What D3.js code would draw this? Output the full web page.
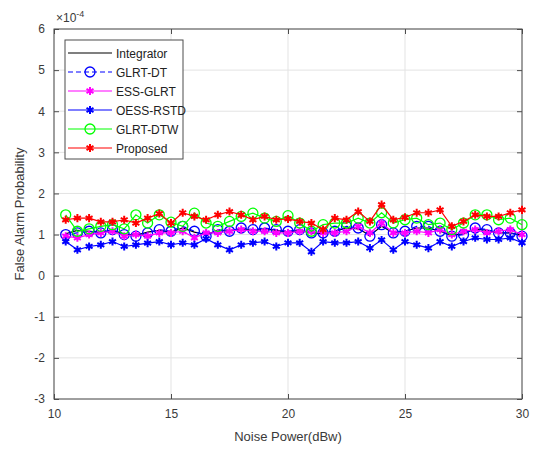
<!DOCTYPE html>
<html>
  <head>
    <meta charset="utf-8" />
    <script src="https://d3js.org/d3.v7.min.js"></script>
    <style>
      body { margin: 0; background: #fff; }
      svg { display: block; font-family: "Liberation Sans", Arial, sans-serif; }
    </style>
  </head>
  <body>
    <svg id="canvas" width="533" height="449"></svg>
    <script>
      // noise power (dBw), 10.5 .. 30 step 0.5
      const noisePower = [10.5, 11, 11.5, 12, 12.5, 13, 13.5, 14, 14.5, 15,
        15.5, 16, 16.5, 17, 17.5, 18, 18.5, 19, 19.5, 20,
        20.5, 21, 21.5, 22, 22.5, 23, 23.5, 24, 24.5, 25,
        25.5, 26, 26.5, 27, 27.5, 28, 28.5, 29, 29.5, 30];

      // false alarm probability, in units of 1e-4
      const integrator = [1.02, 1.10, 1.08, 1.06, 1.10, 1.02, 0.98, 1.06, 1.10, 1.06,
        1.16, 1.06, 1.00, 1.10, 1.08, 1.14, 1.10, 1.14, 1.10, 1.06,
        1.10, 1.04, 1.02, 1.08, 1.16, 1.14, 0.98, 1.20, 1.04, 1.08,
        1.16, 1.16, 1.08, 0.98, 1.02, 1.14, 1.10, 1.04, 1.04, 0.98];
      const glrtDt = [1.00, 1.04, 1.08, 1.04, 1.12, 1.00, 0.96, 1.04, 1.12, 1.08,
        1.20, 1.08, 0.96, 1.12, 1.08, 1.16, 1.12, 1.16, 1.12, 1.08,
        1.12, 1.04, 1.04, 1.08, 1.20, 1.16, 0.96, 1.24, 1.04, 1.08,
        1.20, 1.20, 1.08, 0.96, 1.00, 1.16, 1.12, 1.04, 1.04, 0.96];
      const essGlrt = [0.96, 0.92, 1.00, 1.04, 1.08, 0.96, 1.00, 0.96, 1.04, 1.04,
        1.08, 0.92, 1.04, 1.04, 1.08, 1.12, 1.08, 1.08, 1.04, 1.04,
        1.08, 1.08, 1.04, 1.04, 1.08, 1.20, 1.04, 1.28, 1.04, 1.04,
        1.08, 1.04, 1.12, 1.00, 1.08, 1.12, 1.04, 1.08, 1.12, 1.00];
      const oessRstd = [0.83, 0.63, 0.71, 0.75, 0.83, 0.71, 0.75, 0.79, 0.83, 0.75,
        0.80, 0.75, 0.90, 0.75, 0.63, 0.75, 0.80, 0.83, 0.71, 0.80,
        0.80, 0.58, 0.83, 0.80, 0.80, 0.83, 0.67, 0.87, 0.63, 0.83,
        0.75, 0.67, 0.83, 0.71, 0.83, 0.92, 0.88, 0.88, 0.92, 0.80];
      const glrtDtw = [1.48, 1.08, 1.14, 1.20, 1.24, 1.14, 1.48, 1.28, 1.48, 1.30,
        1.20, 1.52, 1.28, 1.20, 1.32, 1.44, 1.52, 1.40, 1.32, 1.46,
        1.28, 1.08, 1.24, 1.28, 1.28, 1.40, 1.28, 1.53, 1.28, 1.36,
        1.40, 1.24, 1.28, 1.12, 1.28, 1.48, 1.48, 1.36, 1.40, 1.24];
      const proposed = [1.36, 1.40, 1.40, 1.31, 1.31, 1.36, 1.28, 1.40, 1.51, 1.28,
        1.53, 1.44, 1.36, 1.48, 1.56, 1.48, 1.36, 1.44, 1.36, 1.38,
        1.32, 1.28, 1.12, 1.40, 1.36, 1.56, 1.32, 1.73, 1.36, 1.42,
        1.53, 1.53, 1.60, 1.20, 1.32, 1.48, 1.44, 1.44, 1.53, 1.60];

      const seriesNames = ["Integrator", "GLRT-DT", "ESS-GLRT", "OESS-RSTD", "GLRT-DTW", "Proposed"];
      const xTicks = [10, 15, 20, 25, 30];
      const yTicks = [-3, -2, -1, 0, 1, 2, 3, 4, 5, 6];

      const series = [
        { name: seriesNames[0], values: integrator, color: "#000000", dash: null, marker: "none" },
        { name: seriesNames[1], values: glrtDt, color: "#0000ff", dash: "5,3", marker: "circle" },
        { name: seriesNames[2], values: essGlrt, color: "#ff00ff", dash: null, marker: "star" },
        { name: seriesNames[3], values: oessRstd, color: "#0000ff", dash: null, marker: "star" },
        { name: seriesNames[4], values: glrtDtw, color: "#00ff00", dash: null, marker: "circle" },
        { name: seriesNames[5], values: proposed, color: "#ff0000", dash: null, marker: "star" }
      ];

      const pLeft = 54, pRight = 522, pTop = 29, pBottom = 399;
      const svg = d3.select("#canvas");
      const axisColor = "#4d4d4d";
      const plainNum = (d) => String(d);

      const x = d3.scaleLinear().domain([10, 30]).range([pLeft, pRight]);
      const y = d3.scaleLinear().domain([-3, 6]).range([pBottom, pTop]);

      // grid
      const grid = svg.append("g").attr("stroke", "#e3e3e3").attr("stroke-width", 1);
      xTicks.forEach((t) => {
        grid.append("line").attr("x1", x(t)).attr("x2", x(t)).attr("y1", pTop).attr("y2", pBottom);
      });
      yTicks.forEach((t) => {
        grid.append("line").attr("x1", pLeft).attr("x2", pRight).attr("y1", y(t)).attr("y2", y(t));
      });

      // axes with inward ticks
      svg.append("g")
        .attr("transform", `translate(0,${pBottom})`)
        .call(d3.axisBottom(x).tickValues(xTicks).tickFormat(plainNum).tickSize(-5).tickPadding(10))
        .call((g) => g.select(".domain").remove());
      svg.append("g")
        .attr("transform", `translate(${pLeft},0)`)
        .call(d3.axisLeft(y).tickValues(yTicks).tickFormat(plainNum).tickSize(-5).tickPadding(9))
        .call((g) => g.select(".domain").remove());
      svg.append("g")
        .attr("transform", `translate(0,${pTop})`)
        .call(d3.axisTop(x).tickValues(xTicks).tickSize(-5).tickFormat(""))
        .call((g) => g.select(".domain").remove());
      svg.append("g")
        .attr("transform", `translate(${pRight},0)`)
        .call(d3.axisRight(y).tickValues(yTicks).tickSize(-5).tickFormat(""))
        .call((g) => g.select(".domain").remove());
      svg.selectAll(".tick line").attr("stroke", axisColor);
      svg.selectAll(".tick text").attr("fill", "#3a3a3a").style("font-size", "12px")
        .style("font-family", "Liberation Sans, Arial, sans-serif");

      svg.append("rect")
        .attr("x", pLeft).attr("y", pTop)
        .attr("width", pRight - pLeft).attr("height", pBottom - pTop)
        .attr("fill", "none").attr("stroke", axisColor).attr("stroke-width", 1);

      // exponent label
      const ex = svg.append("text").attr("x", 56).attr("y", 22).attr("fill", "#3a3a3a").style("font-size", "12px");
      ex.append("tspan").text("×10");
      ex.append("tspan").attr("dy", -5).style("font-size", "9px").text("-4");

      // axis labels
      svg.append("text")
        .attr("x", (pLeft + pRight) / 2).attr("y", 441)
        .attr("text-anchor", "middle").attr("fill", "#3a3a3a").style("font-size", "13px")
        .text("Noise Power(dBw)");
      svg.append("text")
        .attr("transform", `translate(24,${(pTop + pBottom) / 2}) rotate(-90)`)
        .attr("text-anchor", "middle").attr("fill", "#3a3a3a").style("font-size", "13px")
        .text("False Alarm Probability");

      const star = d3.symbol().type(d3.symbolAsterisk).size(45);

      function drawMarker(g, type, color, cx, cy) {
        if (type === "circle") {
          g.append("circle").attr("cx", cx).attr("cy", cy).attr("r", 5)
            .attr("fill", "none").attr("stroke", color).attr("stroke-width", 1.3);
        } else if (type === "star") {
          g.append("path").attr("d", star).attr("transform", `translate(${cx},${cy})`)
            .attr("fill", "none").attr("stroke", color).attr("stroke-width", 2);
        }
      }

      const line = d3.line().x((d, i) => x(noisePower[i])).y((d) => y(d));
      const plot = svg.append("g");
      series.forEach((s) => {
        const g = plot.append("g");
        g.append("path")
          .datum(s.values)
          .attr("d", line)
          .attr("fill", "none")
          .attr("stroke", s.color)
          .attr("stroke-width", 1.2)
          .attr("stroke-dasharray", s.dash);
        s.values.forEach((v, i) => drawMarker(g, s.marker, s.color, x(noisePower[i]), y(v)));
      });

      // legend
      const lg = svg.append("g");
      lg.append("rect").attr("x", 65).attr("y", 40).attr("width", 118).attr("height", 119)
        .attr("fill", "#fff").attr("stroke", axisColor).attr("stroke-width", 1);
      series.forEach((s, i) => {
        const ly = 53 + i * 19;
        lg.append("line").attr("x1", 68).attr("x2", 112).attr("y1", ly).attr("y2", ly)
          .attr("stroke", s.color).attr("stroke-width", 1.2).attr("stroke-dasharray", s.dash);
        drawMarker(lg, s.marker, s.color, 90, ly);
        lg.append("text").attr("x", 116).attr("y", ly + 4.5).attr("fill", "#222")
          .style("font-size", "12px").text(s.name);
      });
    </script>
  </body>
</html>
